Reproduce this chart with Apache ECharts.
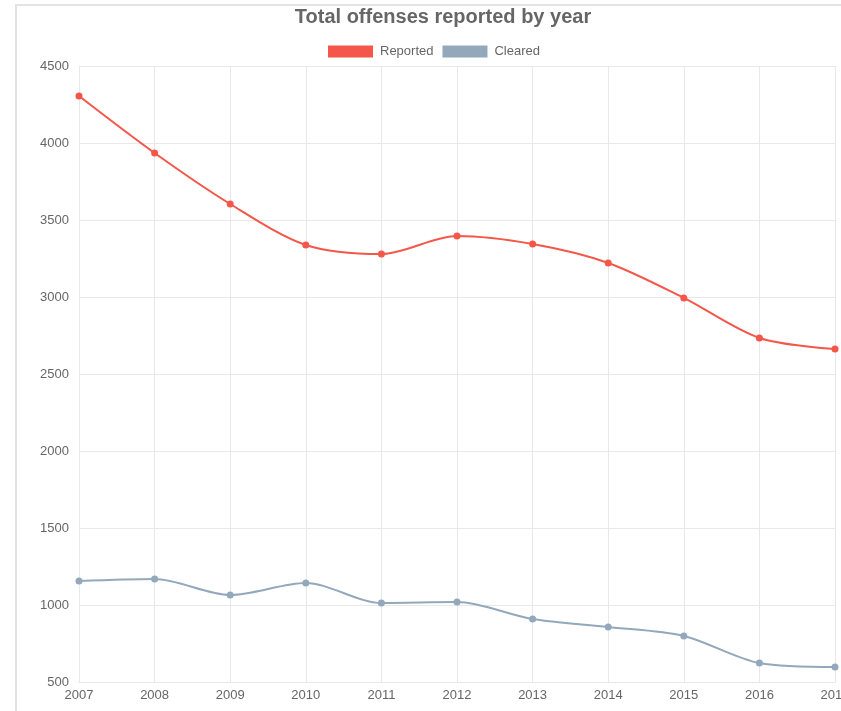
<!DOCTYPE html>
<html>
<head>
<meta charset="utf-8">
<title>Total offenses reported by year</title>
<script src="https://cdn.jsdelivr.net/npm/echarts@6/dist/echarts.min.js"></script>
<style>
  html, body { margin: 0; padding: 0; background: #fff; overflow: hidden; width: 841px; height: 711px; }
  #frame { position: absolute; left: 15px; top: 4px; width: 900px; height: 720px;
           border-left: 2px solid #e3e3e3; border-top: 2px solid #e3e3e3; }
  #chart { position: absolute; left: 0; top: 0; width: 886px; height: 711px; }
</style>
</head>
<body>
<div id="frame"></div>
<div id="chart"></div>
<script>
const years = ['2007', '2008', '2009', '2010', '2011', '2012', '2013', '2014', '2015', '2016', '2017'];
const reported = [4305, 3935, 3604, 3338, 3279, 3396, 3344, 3221, 2994, 2734, 2662];
const cleared = [1156, 1169, 1065, 1143, 1013, 1019, 909, 857, 799, 623, 597];

const textColor = '#666';
const gridColor = '#e8e8e8';
const font = '"Liberation Sans", Arial, Helvetica, sans-serif';

const chart = echarts.init(document.getElementById('chart'), null, { renderer: 'canvas' });

chart.setOption({
  backgroundColor: 'transparent',
  animation: false,
  title: {
    text: 'Total offenses reported by year',
    left: 'center',
    top: 2,
    textStyle: { color: textColor, fontSize: 20, fontWeight: 'bold', fontFamily: font },
  },
  legend: {
    top: 40,
    left: 323,
    itemWidth: 45,
    itemHeight: 12,
    itemGap: 9,
    icon: 'rect',
    textStyle: { color: textColor, fontSize: 13, fontFamily: font, padding: [0, 0, 0, 2] },
    data: [
      { name: 'Reported', itemStyle: { color: '#f4574a' } },
      { name: 'Cleared', itemStyle: { color: '#93a8bb' } },
    ],
  },
  grid: { left: 79, right: 51, top: 66, bottom: 29 },
  xAxis: {
    type: 'category',
    data: years,
    boundaryGap: false,
    axisLine: { show: true, lineStyle: { color: gridColor, width: 1 } },
    axisTick: { show: false },
    axisLabel: { color: textColor, fontSize: 13, fontFamily: font, margin: 7 },
    splitLine: { show: true, lineStyle: { color: gridColor, width: 1 } },
  },
  yAxis: {
    type: 'value',
    min: 500,
    max: 4500,
    interval: 500,
    axisLine: { show: false },
    axisTick: { show: false },
    axisLabel: { color: textColor, fontSize: 13, fontFamily: font, margin: 10, formatter: (v) => String(v) },
    splitLine: { show: true, lineStyle: { color: gridColor, width: 1 } },
  },
  series: [
    {
      name: 'Reported',
      type: 'line',
      data: reported,
      smooth: 0.3,
      symbol: 'circle',
      symbolSize: 7,
      lineStyle: { color: '#f4574a', width: 2 },
      itemStyle: { color: '#f4574a' },
    },
    {
      name: 'Cleared',
      type: 'line',
      data: cleared,
      smooth: 0.3,
      symbol: 'circle',
      symbolSize: 7,
      lineStyle: { color: '#93a8bb', width: 2 },
      itemStyle: { color: '#93a8bb' },
    },
  ],
});
</script>
</body>
</html>
